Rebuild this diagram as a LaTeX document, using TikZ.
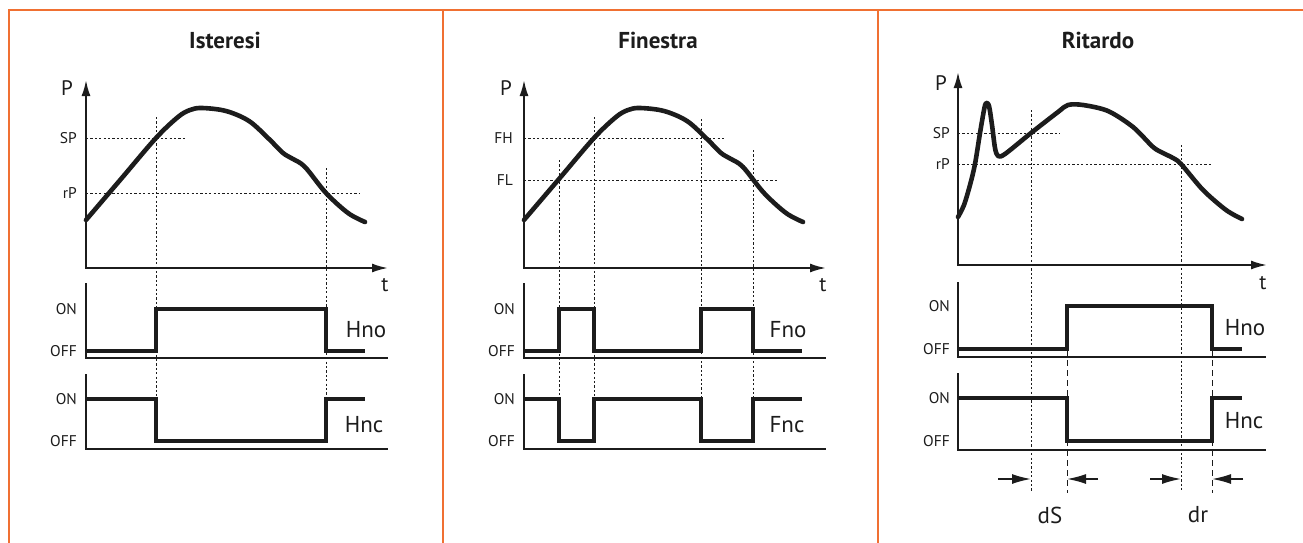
\documentclass[tikz,border=0pt]{standalone}
\usepackage{fontspec}
\setmainfont{PT Sans}
\usetikzlibrary{arrows.meta}
\definecolor{FrameOrange}{RGB}{240,112,50}
\definecolor{Ink}{RGB}{28,28,28}

\begin{document}
\begin{tikzpicture}[x=1pt,y=-1pt,
  axis/.style={line width=2pt,Ink},
  curve/.style={line width=4.6pt,Ink,line cap=round,line join=round},
  sig/.style={line width=4pt,Ink,line join=miter},
  guide/.style={Ink,line width=0.9pt,dash pattern=on 2.2pt off 2.2pt},
  delayln/.style={Ink,line width=1pt,dash pattern=on 6pt off 4pt},
  lvl/.style={font=\fontsize{15.5}{17}\selectfont,anchor=east,inner sep=0pt,text=Ink},
  ttl/.style={font=\bfseries\fontsize{23}{27}\selectfont,text=Ink},
  big/.style={font=\fontsize{23}{27}\selectfont,text=Ink},
  axl/.style={font=\fontsize{21}{24}\selectfont,text=Ink},
  tips/.style={{Latex[length=16pt,width=9pt]}-{Latex[length=16pt,width=9pt]}},
  gap/.style={-{Latex[length=19pt,width=10pt]},line width=1.6pt,Ink}]
  \useasboundingbox (0,0) rectangle (1303,543);
  % frame
  \draw[FrameOrange,line width=2pt] (8.5,543) -- (8.5,10) -- (1303,10);
  \draw[FrameOrange,line width=2pt] (443,10) -- (443,543);
  \draw[FrameOrange,line width=2pt] (878,10) -- (878,543);
  \node[ttl] (ttlIst) at (225,40) {Isteresi};
  \node[ttl] (ttlFin) at (658,40) {Finestra};
  \node[ttl] (ttlRit) at (1098,40) {Ritardo};

  % Isteresi and Finestra share axes and pressure curve
  \foreach \ox in {86,524} {
    \begin{scope}[xshift=\ox pt]
      \draw[axis,tips] (0,80) -- (0,268) -- (302,268);
      \draw[axis] (0,283) -- (0,358) -- (302,358);
      \draw[axis] (0,374) -- (0,449) -- (302,449);
      \node[lvl] at (-9,309) {ON};
      \node[lvl] at (-9,351) {OFF};
      \node[lvl] at (-9,399) {ON};
      \node[lvl] at (-9,441) {OFF};
    \end{scope}
  }

  % Isteresi
  \draw[guide] (86,138) -- (185,138);
  \draw[guide] (86,193) -- (360,193);
  \draw[guide] (156,117) -- (156,399);
  \draw[guide] (326,168) -- (326,399);
  \node[axl] (pIst) at (67,88) {P};
  \node[axl] (tIst) at (385,285) {t};
  \node[lvl] (spIst) at (77,138) {SP};
  \node[lvl] (rpIst) at (77,193) {rP};
  \draw[sig] (86,351) -- (156,351) -- (156,309) -- (326,309) -- (326,351) -- (365,351);
  \draw[sig] (86,399) -- (156,399) -- (156,441) -- (326,441) -- (326,399) -- (365,399);
  \node[big] (hnoIst) at (366,330) {Hno};
  \node[big] (hncIst) at (364,425) {Hnc};

  % Finestra
  \draw[guide] (524,138) -- (725,138);
  \draw[guide] (524,180) -- (778,180);
  \draw[guide] (559,160) -- (559,399);
  \draw[guide] (594,117) -- (594,399);
  \draw[guide] (701,119) -- (701,399);
  \draw[guide] (753,150) -- (753,399);
  \node[axl] (pFin) at (506,88) {P};
  \node[axl] (tFin) at (823,285) {t};
  \node[lvl] (fhFin) at (513,138) {FH};
  \node[lvl] (flFin) at (513,180) {FL};
  \draw[sig] (524,351) -- (559,351) -- (559,309) -- (594,309) -- (594,351) -- (701,351)
    -- (701,309) -- (753,309) -- (753,351) -- (802,351);
  \draw[sig] (524,399) -- (559,399) -- (559,441) -- (594,441) -- (594,399) -- (701,399)
    -- (701,441) -- (753,441) -- (753,399) -- (802,399);
  \node[big] (fnoFin) at (788,330) {Fno};
  \node[big] (fncFin) at (787,425) {Fnc};

  \foreach \ox in {86,524} {
    \begin{scope}[xshift=\ox pt]
      \draw[curve] plot[smooth,tension=0.55] coordinates {(0,220) (35,179) (70,138)
        (92,117) (104,110) (116,108) (140,111) (163,121) (183,139) (197,153) (207,159)
        (219,167) (240,193) (262,213) (279,222)};
    \end{scope}
  }

  % Ritardo
  \draw[guide] (958,133) -- (1060,133);
  \draw[guide] (958,164) -- (1213,164);
  \draw[guide] (1031,110) -- (1031,492);
  \draw[guide] (1181,145) -- (1181,492);
  \draw[delayln] (1067,350) -- (1067,493);
  \draw[delayln] (1212,350) -- (1212,493);
  \draw[axis,tips] (958,72) -- (958,265) -- (1267,265);
  \draw[axis] (958,282) -- (958,357) -- (1266,357);
  \draw[axis] (958,373) -- (958,450) -- (1266,450);
  \draw[curve] plot[smooth,tension=0.5] coordinates {(958,217) (964,205) (970,185)
    (975,164) (980,133) (984,110) (986,103) (989,106) (992,125) (995,148) (998,156)
    (1005,154) (1031,133) (1058,112) (1068,105) (1083,105) (1108,111) (1133,127)
    (1153,147) (1163,153) (1173,158) (1181,164) (1203,190) (1226,210) (1242,219)};
  \node[axl] (pRit) at (941,83) {P};
  \node[axl] (tRit) at (1263,283) {t};
  \node[lvl] (spRit) at (950,133) {SP};
  \node[lvl] (rpRit) at (950,164) {rP};
  \node[lvl] at (950,306) {ON};
  \node[lvl] at (950,349) {OFF};
  \node[lvl] at (950,398) {ON};
  \node[lvl] at (950,441) {OFF};
  \draw[sig] (958,349) -- (1067,349) -- (1067,306) -- (1212,306) -- (1212,349) -- (1242,349);
  \draw[sig] (958,398) -- (1067,398) -- (1067,441) -- (1212,441) -- (1212,398) -- (1242,398);
  \node[big] (hnoRit) at (1245,328) {Hno};
  \node[big] (hncRit) at (1244,421) {Hnc};
  \coordinate (dsA) at (1031,479);
  \coordinate (dsB) at (1067,479);
  \coordinate (drA) at (1181,479);
  \coordinate (drB) at (1212,479);
  \draw[gap] ([xshift=-33pt]dsA) -- (dsA);
  \draw[gap] ([xshift=31pt]dsB) -- (dsB);
  \draw[gap] ([xshift=-31pt]drA) -- (drA);
  \draw[gap] ([xshift=31pt]drB) -- (drB);
  \node[big] (dsLbl) at (1050,515) {dS};
  \node[big] (drLbl) at (1198,515) {dr};
\end{tikzpicture}
\end{document}
